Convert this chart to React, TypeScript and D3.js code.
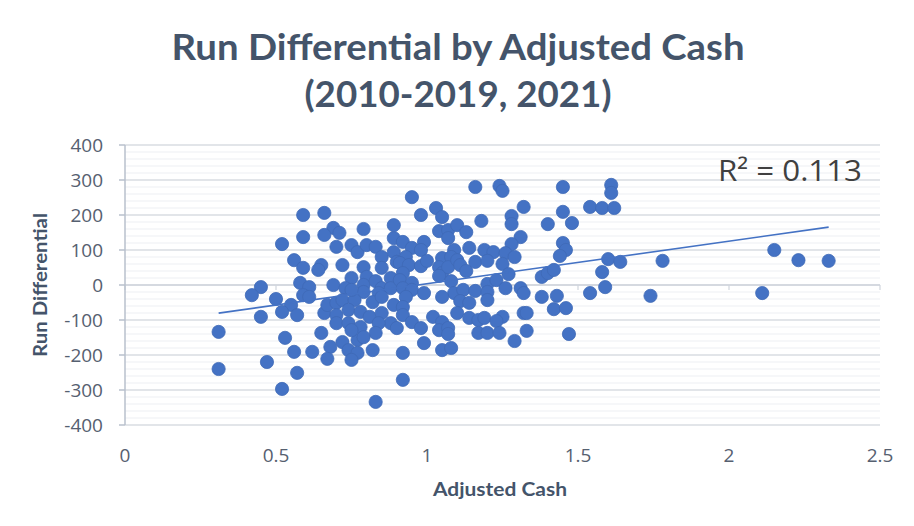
import React from "react";
import * as d3 from "d3";

// ---- Data ----
const adjustedCash: number[] = [
  // low cash region
  0.59, 0.66, 0.69, 0.66, 0.59, 0.52, 0.70, 0.56, 0.59, 0.65, 0.64, 0.58, 0.61, 0.59, 0.61, 0.69,
  0.45, 0.42, 0.50, 0.55, 0.52, 0.57, 0.45, 0.31, 0.31, 0.66, 0.67, 0.70, 0.70, 0.70, 0.65, 0.53,
  0.56, 0.62, 0.68, 0.47, 0.57, 0.52, 0.67,
  // 0.7 - 0.9
  0.71, 0.75, 0.77, 0.80, 0.83, 0.72, 0.79, 0.85, 0.85, 0.89, 0.89, 0.79, 0.89, 0.90, 0.75, 0.80,
  0.79, 0.83, 0.85, 0.88, 0.73, 0.79, 0.84, 0.88, 0.72, 0.76, 0.82, 0.85, 0.89, 0.74, 0.78, 0.81,
  0.85, 0.88, 0.90, 0.84, 0.74, 0.78, 0.83, 0.72, 0.77, 0.74, 0.77, 0.82, 0.75, 0.79, 0.75, 0.75,
  0.83,
  // 0.9 - 1.17
  0.95, 0.98, 1.03, 1.05, 1.16, 1.04, 1.07, 1.10, 1.13, 1.07, 0.92, 0.99, 0.95, 1.09, 1.14, 0.93,
  0.98, 1.05, 1.08, 0.91, 0.94, 0.98, 1.00, 1.04, 1.05, 1.07, 1.10, 1.11, 1.13, 1.16, 0.92, 0.91,
  0.95, 0.92, 0.95, 0.99, 1.04, 1.08, 1.09, 1.12, 1.16, 0.93, 1.05, 1.11, 1.14, 0.92, 0.92, 0.95,
  0.98, 1.02, 1.05, 1.04, 1.07, 1.07, 1.10, 1.14, 1.17, 1.17, 0.99, 1.05, 1.08, 0.92, 0.92,
  // 1.18 - 1.48
  1.18, 1.24, 1.25, 1.45, 1.32, 1.28, 1.28, 1.40, 1.45, 1.48, 1.31, 1.28, 1.45, 1.46, 1.44, 1.19,
  1.22, 1.26, 1.29, 1.25, 1.20, 1.27, 1.38, 1.40, 1.42, 1.20, 1.23, 1.20, 1.20, 1.26, 1.31, 1.32,
  1.38, 1.43, 1.42, 1.46, 1.19, 1.25, 1.32, 1.33, 1.23, 1.20, 1.24, 1.33, 1.29, 1.47,
  // high cash
  1.61, 1.61, 1.54, 1.58, 1.62, 1.60, 1.64, 1.58, 1.59, 1.54, 1.74, 1.78, 2.15, 2.23, 2.33, 2.11,
];

const runDifferential: number[] = [
  200, 206, 163, 143, 137, 117, 109, 71, 49, 57, 43, 6, -6, -29, -34, 0,
  -6, -29, -40, -57, -77, -86, -91, -134, -240, -80, -57, -51, -86, -109, -137, -151,
  -191, -191, -177, -220, -251, -297, -211,
  149, 114, 94, 114, 109, 57, 51, 80, 49, 134, 171, 160, 94, 66, 20, 23,
  0, 11, -9, 20, -9, -20, -23, -9, -43, -43, -49, -34, -57, -71, -77, -91,
  -80, -109, -123, -109, -109, -120, -137, -163, -157, -186, -194, -186, -14, -149, -129, -214,
  -334,
  251, 200, 220, 194, 280, 154, 157, 171, 151, 134, 123, 123, 106, 100, 106, 80,
  100, 77, 80, 63, 57, 54, 69, 51, 34, 51, 71, 57, 40, 66, 34, 14,
  6, -9, -14, -23, 26, 11, -23, -14, -17, -34, -34, -46, -51, -63, -86, -106,
  -123, -91, -106, -129, -123, -140, -80, -94, -100, -137, -166, -186, -180, -194, -271,
  183, 283, 269, 280, 223, 197, 174, 174, 209, 177, 137, 117, 120, 100, 83, 100,
  94, 91, 80, 60, 69, 31, 23, 34, 43, 3, 14, -20, -43, -9, -9, -23,
  -34, -31, -69, -66, -94, -91, -80, -80, -103, -137, -137, -131, -160, -140,
  286, 263, 223, 220, 220, 74, 66, 37, -6, -23, -31, 69, 100, 71, 69, -23,
];

const xTicks = [0, 0.5, 1, 1.5, 2, 2.5];
const yTicks = [400, 300, 200, 100, 0, -100, -200, -300, -400];
const yMinorTicks = d3.range(-400, 401, 20);

const titleLines = ["Run Differential by Adjusted Cash", "(2010-2019, 2021)"];
const xAxisTitle = "Adjusted Cash";
const yAxisTitle = "Run Differential";
const rSquaredLabel = "R² = 0.113";

const W = 914;
const H = 526;

export default function App() {
  const x = d3.scaleLinear().domain([0, 2.5]).range([125, 880]);
  const y = d3.scaleLinear().domain([-400, 400]).range([425, 145]);

  const points = adjustedCash.map((c, i) => ({ c, r: runDifferential[i] }));

  // least-squares linear trendline
  const mx = d3.mean(adjustedCash) as number;
  const my = d3.mean(runDifferential) as number;
  let sxy = 0;
  let sxx = 0;
  points.forEach((p) => {
    sxy += (p.c - mx) * (p.r - my);
    sxx += (p.c - mx) * (p.c - mx);
  });
  const slope = sxy / sxx;
  const intercept = my - slope * mx;
  const [xmin, xmax] = d3.extent(adjustedCash) as [number, number];
  const trend = d3
    .line<number>()
    .x((d) => x(d))
    .y((d) => y(intercept + slope * d));

  const tickColor = "#566070";
  const titleColor = "#44546A";

  return (
    <svg
      width={W}
      height={H}
      style={{ position: "absolute", left: 0, top: 0, display: "block", background: "#fff" }}
    >
      {/* minor gridlines */}
      {yMinorTicks
        .filter((t) => t % 100 !== 0)
        .map((t) => (
          <line key={"m" + t} x1={x(0)} x2={x(2.5)} y1={y(t)} y2={y(t)} stroke="#eef0f3" strokeWidth={1.2} />
        ))}
      {/* major gridlines */}
      {yTicks.map((t) => (
        <line key={"g" + t} x1={x(0)} x2={x(2.5)} y1={y(t)} y2={y(t)} stroke="#d9dce2" strokeWidth={1.4} />
      ))}
      {/* horizontal axis at zero */}
      <line x1={x(0)} x2={x(2.5)} y1={y(0)} y2={y(0)} stroke="#d0d5dd" strokeWidth={1.5} />
      {xTicks.map((t) => (
        <line key={"xt" + t} x1={x(t)} x2={x(t)} y1={y(0)} y2={y(0) + 5} stroke="#d0d5dd" strokeWidth={1.2} />
      ))}
      {/* vertical axis */}
      <line x1={x(0)} x2={x(0)} y1={y(400)} y2={y(-400)} stroke="#b8c0cd" strokeWidth={1.5} />
      {yTicks.map((t) => (
        <line key={"yt" + t} x1={x(0) - 6} x2={x(0)} y1={y(t)} y2={y(t)} stroke="#b8c0cd" strokeWidth={1.5} />
      ))}

      {/* y tick labels */}
      {yTicks.map((t) => (
        <text
          key={"yl" + t}
          x={103}
          y={y(t)}
          dy="0.36em"
          textAnchor="end"
          fontFamily="'Open Sans', sans-serif"
          fontSize={19}
          fill={tickColor}
        >
          {t}
        </text>
      ))}
      {/* x tick labels */}
      {xTicks.map((t) => (
        <text
          key={"xl" + t}
          x={x(t)}
          y={455}
          dy="0.36em"
          textAnchor="middle"
          fontFamily="'Open Sans', sans-serif"
          fontSize={19}
          fill={tickColor}
        >
          {t}
        </text>
      ))}

      {/* points */}
      {points.map((p, i) => (
        <circle key={i} cx={x(p.c)} cy={y(p.r)} r={6.6} fill="#4472C4" stroke="#3f69b6" strokeWidth={0.8} />
      ))}

      {/* trendline */}
      <path d={trend([xmin, xmax]) as string} fill="none" stroke="#4472C4" strokeWidth={1.6} />

      {/* R squared */}
      <text
        x={718}
        y={181}
        fontFamily="'Open Sans', sans-serif"
        fontSize={29}
        fill="#404040"
        textLength={144}
        lengthAdjust="spacingAndGlyphs"
      >
        {rSquaredLabel}
      </text>

      {/* title */}
      <text
        x={458}
        y={60}
        textAnchor="middle"
        fontFamily="Lato, sans-serif"
        fontWeight={700}
        fontSize={37}
        fill={titleColor}
        textLength={573}
        lengthAdjust="spacingAndGlyphs"
      >
        {titleLines[0]}
      </text>
      <text
        x={458}
        y={107}
        textAnchor="middle"
        fontFamily="Lato, sans-serif"
        fontWeight={700}
        fontSize={37}
        fill={titleColor}
        textLength={307}
        lengthAdjust="spacingAndGlyphs"
      >
        {titleLines[1]}
      </text>

      {/* axis titles */}
      <text
        x={500}
        y={496}
        textAnchor="middle"
        fontFamily="Lato, sans-serif"
        fontWeight={700}
        fontSize={18}
        fill={titleColor}
        textLength={134}
        lengthAdjust="spacingAndGlyphs"
      >
        {xAxisTitle}
      </text>
      <text
        transform="translate(47,285) rotate(-90)"
        textAnchor="middle"
        fontFamily="Lato, sans-serif"
        fontWeight={700}
        fontSize={18}
        fill={titleColor}
        textLength={144}
        lengthAdjust="spacingAndGlyphs"
      >
        {yAxisTitle}
      </text>
    </svg>
  );
}
